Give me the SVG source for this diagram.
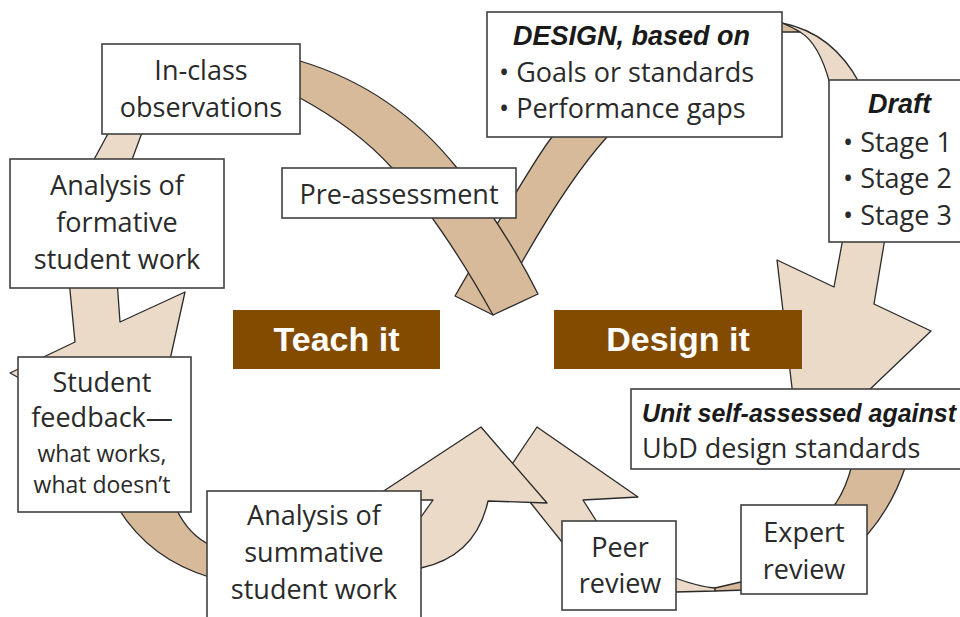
<svg xmlns="http://www.w3.org/2000/svg" width="960" height="617" viewBox="0 0 960 617">
<style>
.dk{fill:#D7BA9A;stroke:#2a2a2a;stroke-width:1.3;stroke-linejoin:round}
.lt{fill:#EADAC7;stroke:#2a2a2a;stroke-width:1.3;stroke-linejoin:round}
.box{fill:#fff;stroke:#404040;stroke-width:1.6}
.lab{fill:#834B00}
.hw{font-family:"Open Sans","Liberation Sans",sans-serif;font-size:27px;fill:#2a2a2a;text-anchor:middle}
.hs{font-family:"Open Sans","Liberation Sans",sans-serif;font-size:23px;fill:#2a2a2a;text-anchor:middle}
.hl{font-family:"Open Sans","Liberation Sans",sans-serif;font-size:27px;fill:#2a2a2a}
.hd{font-family:"Liberation Sans",Arial,sans-serif;font-weight:bold;font-style:italic;fill:#1a1a1a}
.big{font-family:"Liberation Sans",Arial,sans-serif;font-weight:bold;font-size:34px;fill:#fff;text-anchor:middle}
</style>
<rect width="960" height="617" fill="#fff"/>
<g id="connectors">
  <!-- back band of folded ribbon -->
  <path class="dk" d="M552,130 L552,137 Q535,158 455,296 L493,315 Q559,190 607,137 L607,130 Z"/>
  <!-- front band from In-class observations -->
  <path class="dk" d="M290,58 L300,61 Q394,89 457,168 Q505,228 538,294 L493,315 Q442,223 392,168 Q357,129 300,98 L290,98 Z"/>
  <!-- In-class to formative -->
  <path class="lt" d="M110,130 L143,130 L130,165 L91,165 Z"/>
  <!-- formative to student arrow -->
  <path class="lt" d="M69,280 L75,342 L10,373 L150,450 L185,292 L120,322 L117,280 Z"/>
  <!-- student to summative -->
  <path class="dk" d="M118,508 Q150,560 212,578 L212,546 Q188,535 176,508 Z"/>
  <!-- arrowhead 2 (peer review) -->
  <path class="lt" d="M537,427 L638,497 L583,500 Q590,511 597,522 L640,560 L675,578 Q700,587 715,588 L715,591 L675,592 L600,600 L562,542 Q545,521 530,502 L490,497 Z"/>
  <!-- arrowhead 1 (summative) -->
  <path class="lt" d="M481,427 L547,503 L488,501 Q476,556 421,568 L400,575 L400,530 L421,517 L433,500 L370,500 Z"/>
  <!-- expert sliver -->
  <path class="dk" d="M715,588 Q728,585 745,581 L745,590 L715,591 Z"/>
  <!-- unit to expert -->
  <path class="dk" d="M852,465 L906,465 Q893,505 867,535 L860,540 L830,510 L836,503 Q846,488 852,465 Z"/>
  <!-- draft to unit arrow -->
  <path class="lt" d="M843,238 L834,287 L777,260 L800,456 L931,331 L874,304 L885,238 Z"/>
  <!-- design to draft -->
  <path class="lt" d="M782,23 Q833,33 860,84 L830,84 Q819,43 800,32 Z"/>
  <path class="dk" d="M778,21 L782,23 Q792,27 800,32 L778,32 Z"/>
</g>
<g id="teach-label"><rect class="lab" x="233" y="310" width="207" height="59"/><text class="big" x="336.5" y="351">Teach it</text></g>
<g id="design-label"><rect class="lab" x="554" y="310" width="248" height="59"/><text class="big" x="678" y="351">Design it</text></g>
<g id="inclass"><rect class="box" x="102" y="44" width="198" height="90"/><text class="hw" x="201" y="80">In-class</text><text class="hw" x="201" y="117">observations</text></g>
<g id="formative"><rect class="box" x="10" y="159" width="214" height="129"/><text class="hw" x="117" y="195">Analysis of</text><text class="hw" x="117" y="232">formative</text><text class="hw" x="117" y="269">student work</text></g>
<g id="preassessment"><rect class="box" x="282" y="168" width="234" height="50"/><text class="hw" x="399" y="204">Pre-assessment</text></g>
<g id="design"><rect class="box" x="487" y="12" width="295" height="125"/><text class="hd" x="513" y="45" font-size="27">DESIGN, based on</text><text class="hl" x="499" y="82">• Goals or standards</text><text class="hl" x="499" y="118">• Performance gaps</text></g>
<g id="draft"><rect class="box" x="829" y="80" width="140" height="162"/><text class="hd" x="868" y="113" font-size="27">Draft</text><text class="hl" x="843" y="152">• Stage 1</text><text class="hl" x="843" y="188">• Stage 2</text><text class="hl" x="843" y="225">• Stage 3</text></g>
<g id="unit"><rect class="box" x="631" y="389" width="340" height="80"/><text class="hd" x="642" y="422" font-size="25">Unit self-assessed against</text><text class="hl" x="642" y="458">UbD design standards</text></g>
<g id="student"><rect class="box" x="18" y="357" width="173" height="155"/><text class="hw" x="102" y="392">Student</text><text class="hw" x="102" y="427">feedback—</text><text class="hs" x="102" y="462">what works,</text><text class="hs" x="102" y="493">what doesn’t</text></g>
<g id="summative"><rect class="box" x="207" y="491" width="214" height="140"/><text class="hw" x="314" y="525">Analysis of</text><text class="hw" x="314" y="562">summative</text><text class="hw" x="314" y="599">student work</text></g>
<g id="peer"><rect class="box" x="562" y="521" width="114" height="89"/><text class="hw" x="620" y="557">Peer</text><text class="hw" x="620" y="593">review</text></g>
<g id="expert"><rect class="box" x="741" y="505" width="126" height="89"/><text class="hw" x="804" y="542">Expert</text><text class="hw" x="804" y="579">review</text></g>
</svg>
